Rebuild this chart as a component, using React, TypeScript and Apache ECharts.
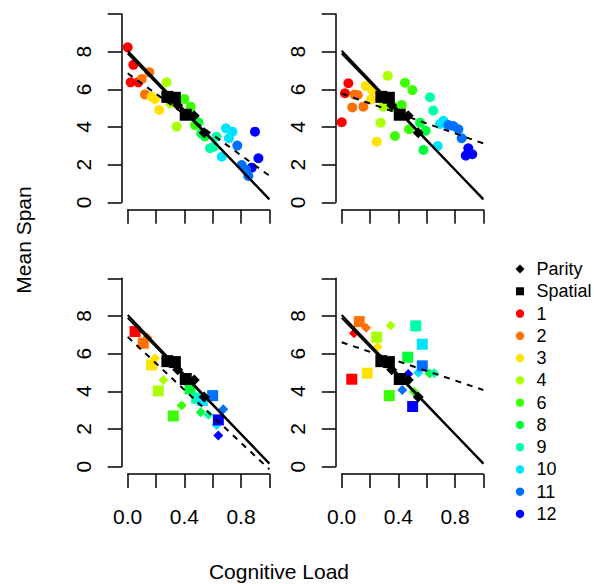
import React, { useEffect, useRef } from 'react';
import * as echarts from 'echarts';

const FONT = '"Liberation Sans", Arial, Helvetica, sans-serif';

// group ids and their colours
const GROUPS = [1, 2, 3, 4, 6, 8, 9, 10, 11, 12];
const GROUP_COLORS = ['#FF0000', '#FF7100', '#FFE200', '#AAFF00', '#39FF00', '#00FF39', '#00FFAA', '#00E3FF', '#0071FF', '#0000FF'];

const X_TICKS = [0, 0.2, 0.4, 0.6, 0.8, 1.0];
const X_LABELS = ['0.0', '', '0.4', '', '0.8', ''];
const Y_TICKS = [0, 2, 4, 6, 8, 10];
const Y_LABELS = ['0', '2', '4', '6', '8', ''];

// [load, span, group]
const topLeftPoints = [
  [0.0, 8.23, 1], [0.04, 7.3, 1], [0.153, 6.9, 2], [0.021, 6.37, 1], [0.075, 6.37, 1], [0.099, 6.55, 2],
  [0.275, 6.37, 4], [0.122, 5.73, 2], [0.169, 5.61, 3], [0.193, 5.49, 3], [0.223, 4.9, 3], [0.3, 5.27, 4],
  [0.4, 5.49, 6], [0.445, 5.08, 6], [0.44, 4.75, 6], [0.346, 4.02, 4], [0.475, 4.1, 6], [0.5, 4.25, 8],
  [0.52, 3.66, 8], [0.545, 3.5, 8], [0.628, 3.48, 9], [0.581, 2.87, 9], [0.61, 2.95, 9], [0.664, 2.42, 10],
  [0.694, 3.93, 10], [0.74, 3.75, 10], [0.715, 3.4, 10], [0.774, 3.01, 11], [0.899, 3.75, 12], [0.923, 2.34, 12],
  [0.805, 1.98, 11], [0.876, 1.84, 12], [0.852, 1.4, 11], [0.835, 1.72, 11],
];
const topRightPoints = [
  [0.047, 6.32, 1], [0.023, 5.79, 1], [0.0, 4.25, 1], [0.075, 5.04, 2], [0.113, 5.7, 2], [0.09, 5.72, 2],
  [0.153, 5.08, 2], [0.17, 6.18, 3], [0.207, 5.47, 3], [0.216, 5.96, 3], [0.325, 6.72, 4], [0.294, 5.08, 4],
  [0.275, 4.23, 4], [0.247, 3.22, 3], [0.376, 3.52, 6], [0.447, 6.35, 6], [0.499, 5.96, 6], [0.424, 5.17, 6],
  [0.364, 5.08, 6], [0.475, 3.88, 6], [0.553, 4.23, 8], [0.593, 3.8, 8], [0.577, 2.78, 8], [0.624, 5.58, 9],
  [0.647, 4.87, 9], [0.678, 2.99, 10], [0.718, 4.33, 10], [0.694, 4.16, 10], [0.753, 4.1, 11], [0.788, 4.05, 11],
  [0.824, 3.88, 11], [0.847, 3.4, 11], [0.894, 2.87, 12], [0.876, 2.48, 12], [0.922, 2.55, 12],
];
const bottomLeftDiamonds = [
  [0.06, 7.15, 1], [0.138, 6.85, 2], [0.193, 5.76, 3], [0.252, 4.6, 4], [0.381, 3.24, 6], [0.516, 2.89, 8],
  [0.57, 2.75, 9], [0.628, 2.21, 10], [0.675, 3.05, 11], [0.64, 1.65, 12],
];
const bottomLeftSquares = [
  [0.052, 7.17, 1], [0.11, 6.55, 2], [0.169, 5.4, 3], [0.216, 4.02, 4], [0.322, 2.69, 6], [0.44, 4.13, 8],
  [0.487, 3.63, 9], [0.527, 3.51, 10], [0.6, 3.77, 11], [0.64, 2.48, 12],
];
const bottomRightDiamonds = [
  [0.087, 7.08, 1], [0.172, 7.38, 2], [0.254, 6.37, 3], [0.346, 7.49, 4], [0.511, 3.98, 6], [0.62, 4.95, 8],
  [0.654, 4.96, 9], [0.541, 4.99, 10], [0.428, 4.07, 11], [0.47, 4.92, 12],
];
const bottomRightSquares = [
  [0.071, 4.64, 1], [0.124, 7.7, 2], [0.181, 4.96, 3], [0.247, 6.87, 4], [0.336, 3.77, 6], [0.466, 5.81, 8],
  [0.523, 7.47, 9], [0.569, 6.5, 10], [0.569, 5.35, 11], [0.501, 3.19, 12],
];

// overall task means (black)
const parityMeans = [[0.353, 5.15], [0.47, 4.6], [0.54, 3.7]];
const spatialMeans = [[0.28, 5.6], [0.333, 5.55], [0.41, 4.65]];

// fitted lines: intercept, slope
const solidIntercepts = [8.05, 7.9];
const solidSlopes = [-7.9, -7.72];
const dashedIntercepts = [6.85, 5.78, 6.89, 6.6];
const dashedSlopes = [-5.44, -2.65, -7.03, -2.53];

const LEGEND_LABELS = ['Parity', 'Spatial', ...GROUPS.map(String)];

const PANELS = [
  { left: 127.7, top: 14 },
  { left: 341.7, top: 14 },
  { left: 127.7, top: 278.3 },
  { left: 341.7, top: 278.3 },
];
const PW = 141.6;
const PH = 188.3;

function colorOf(g: number) {
  return GROUP_COLORS[GROUPS.indexOf(g)];
}

function colored(points: number[][]) {
  return points.map((p) => ({ value: [p[0], p[1]], itemStyle: { color: colorOf(p[2]), opacity: 1 } }));
}

export default function App() {
  const ref = useRef<HTMLDivElement>(null);
  useEffect(() => {
    if (!ref.current) return;
    const chart = echarts.init(ref.current, undefined, { renderer: 'svg' });
    const axisLineStyle = { color: '#000', width: 1.5 };

    const grids = PANELS.map((p) => ({ left: p.left, top: p.top, width: PW, height: PH, outerBoundsMode: 'none' }));
    const xAxes = PANELS.map((_, i) => ({
      type: 'value', gridIndex: i, min: 0, max: 1, interval: 0.2, offset: 7.5,
      axisLine: { show: true, onZero: false, lineStyle: axisLineStyle },
      axisTick: { show: true, length: 14, lineStyle: axisLineStyle },
      splitLine: { show: false },
      axisLabel: {
        show: i >= 2, margin: 32, color: '#000', fontSize: 21, fontFamily: FONT,
        formatter: (v: number) => {
          const k = X_TICKS.findIndex((t) => Math.abs(t - v) < 1e-6);
          return k >= 0 ? X_LABELS[k] : '';
        },
      },
    }));
    const yAxes = PANELS.map((_, i) => ({
      type: 'value', gridIndex: i, min: 0, max: 10, interval: 2, offset: 6,
      axisLine: { show: true, onZero: false, lineStyle: axisLineStyle },
      axisTick: { show: true, length: 14, lineStyle: axisLineStyle },
      splitLine: { show: false },
      axisLabel: {
        show: true, rotate: 90, margin: 28, color: '#000', fontSize: 21, fontFamily: FONT,
        formatter: (v: number) => {
          const k = Y_TICKS.findIndex((t) => Math.abs(t - v) < 1e-6);
          return k >= 0 ? Y_LABELS[k] : '';
        },
      },
    }));

    const series: any[] = [];
    const scatter = (i: number, data: any[], symbol: string, size: number, z: number) => ({
      type: 'scatter', xAxisIndex: i, yAxisIndex: i, data, symbol, symbolSize: size,
      clip: false, silent: true, z, itemStyle: { opacity: 1 },
    });
    series.push(scatter(0, colored(topLeftPoints), 'circle', 10, 2));
    series.push(scatter(1, colored(topRightPoints), 'circle', 10, 2));
    series.push(scatter(2, colored(bottomLeftDiamonds), 'diamond', 10, 2));
    series.push(scatter(2, colored(bottomLeftSquares), 'rect', 11, 3));
    series.push(scatter(3, colored(bottomRightDiamonds), 'diamond', 10, 2));
    series.push(scatter(3, colored(bottomRightSquares), 'rect', 11, 3));

    for (let i = 0; i < 4; i++) {
      series.push({ ...scatter(i, parityMeans, 'diamond', 11, 4), itemStyle: { color: '#000', opacity: 1 } });
      series.push({ ...scatter(i, spatialMeans, 'rect', 12, 4), itemStyle: { color: '#000', opacity: 1 } });
      solidIntercepts.forEach((b, k) => {
        series.push({
          type: 'line', xAxisIndex: i, yAxisIndex: i, showSymbol: false, symbol: 'none', clip: false, silent: true, z: 6,
          data: [[0, b], [1, b + solidSlopes[k]]],
          lineStyle: { color: '#000', width: 2, opacity: 1 },
        });
      });
      series.push({
        type: 'line', xAxisIndex: i, yAxisIndex: i, showSymbol: false, symbol: 'none', clip: false, silent: true, z: 5,
        data: [[0, dashedIntercepts[i]], [1, dashedIntercepts[i] + dashedSlopes[i]]],
        lineStyle: { color: '#000', width: 2, type: [6, 6], opacity: 1 },
      });
    }

    const graphic: any[] = [
      {
        type: 'text', x: 23, y: 240, rotation: Math.PI / 2,
        style: { text: 'Mean Span', fontSize: 21, fontFamily: FONT, fill: '#000', align: 'center', verticalAlign: 'middle', textAlign: 'center', textVerticalAlign: 'middle' },
      },
      {
        type: 'text', x: 279, y: 571,
        style: { text: 'Cognitive Load', fontSize: 21, fontFamily: FONT, fill: '#000', align: 'center', verticalAlign: 'middle', textAlign: 'center', textVerticalAlign: 'middle' },
      },
    ];
    LEGEND_LABELS.forEach((lab, k) => {
      const cy = 269 + k * 22.27;
      const cx = 520;
      if (k === 0) {
        graphic.push({ type: 'polygon', shape: { points: [[cx, cy - 4.5], [cx + 4.5, cy], [cx, cy + 4.5], [cx - 4.5, cy]] }, style: { fill: '#000' } });
      } else if (k === 1) {
        graphic.push({ type: 'rect', shape: { x: cx - 4, y: cy - 4, width: 8, height: 8 }, style: { fill: '#000' } });
      } else {
        graphic.push({ type: 'circle', shape: { cx, cy, r: 4.2 }, style: { fill: GROUP_COLORS[k - 2] } });
      }
      graphic.push({
        type: 'text', x: 536.5, y: cy,
        style: { text: lab, fontSize: 18, fontFamily: FONT, fill: '#000', align: 'left', verticalAlign: 'middle', textAlign: 'left', textVerticalAlign: 'middle' },
      });
    });

    chart.setOption({
      animation: false,
      backgroundColor: '#fff',
      grid: grids,
      xAxis: xAxes,
      yAxis: yAxes,
      series,
      graphic,
    });
    return () => chart.dispose();
  }, []);
  return <div ref={ref} style={{ position: 'fixed', left: 0, top: 0, width: 594, height: 584 }} />;
}
